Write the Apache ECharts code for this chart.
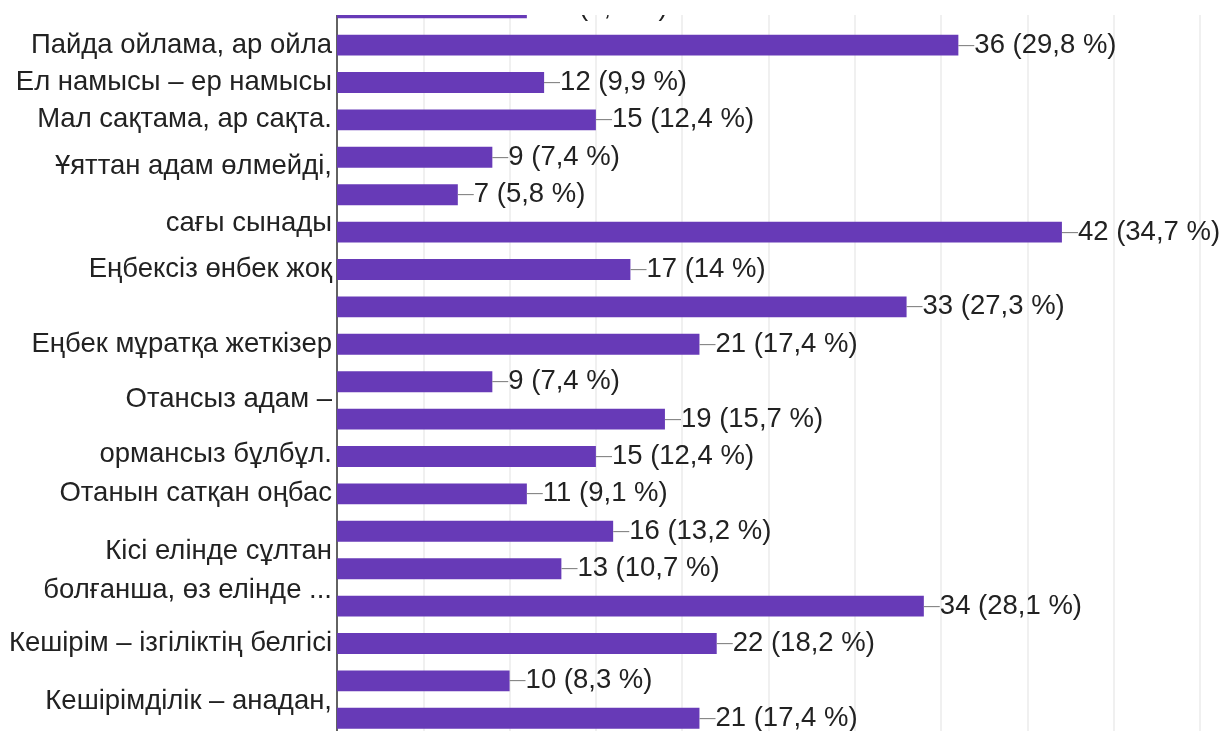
<!DOCTYPE html>
<html>
<head>
<meta charset="utf-8">
<script src="https://cdn.jsdelivr.net/npm/echarts@6/dist/echarts.min.js"></script>
<style>
html,body{margin:0;padding:0;background:#fff;overflow:hidden;width:1227px;height:731px;}
#wrap{position:absolute;left:0;top:15px;width:1227px;height:716px;overflow:hidden;}
#chart{position:absolute;left:0;top:-35px;width:1227px;height:780px;}
</style>
</head>
<body>
<div id="wrap"><div id="chart"></div></div>
<script>
// Category labels (one per bar, top to bottom); '' = no label shown on that bar
const categories = [
  '', 'Пайда ойлама, ар ойла', 'Ел намысы – ер намысы', 'Мал сақтама, ар сақта.', '',
  'Ұяттан адам өлмейді,\nсағы сынады', '', 'Еңбексіз өнбек жоқ', '', 'Еңбек мұратқа жеткізер',
  '', 'Отансыз адам –\nормансыз бұлбұл.', '', 'Отанын сатқан оңбас', '',
  'Кісі елінде сұлтан\nболғанша, өз елінде ...', '', 'Кешірім – ізгіліктің белгісі', '', 'Кешірімділік – анадан,'
];
// Label layout style per category: w/v = wide two-line, n = narrow two-line, u = shifted up
const labelStyles = ['', '', '', '', '', 'w', '', '', '', '', '', 'v', '', '', '', 'n', '', '', '', 'u'];
const counts = [11, 36, 12, 15, 9, 7, 42, 17, 33, 21, 9, 19, 15, 11, 16, 13, 34, 22, 10, 21];
const percents = ['9,1', '29,8', '9,9', '12,4', '7,4', '5,8', '34,7', '14', '27,3', '17,4', '7,4', '15,7', '12,4', '9,1', '13,2', '10,7', '28,1', '18,2', '8,3', '17,4'];
const xTicks = { min: 0, max: 50, interval: 5 };

const chart = echarts.init(document.getElementById('chart'), null, { renderer: 'canvas' });
const FONT = '"Liberation Sans", Arial, sans-serif';
const FS = 27.5;
chart.setOption({
  animation: false,
  backgroundColor: '#ffffff',
  grid: { left: 337, right: 27, top: 9, height: 748, containLabel: false, outerBoundsMode: 'none' },
  xAxis: {
    type: 'value', min: xTicks.min, max: xTicks.max, interval: xTicks.interval,
    axisLabel: { show: false }, axisLine: { show: false }, axisTick: { show: false },
    splitLine: { show: true, lineStyle: { color: '#ebebeb', width: 1.5 } }
  },
  yAxis: {
    type: 'category', inverse: true, data: categories,
    axisLine: { show: true, lineStyle: { color: '#333', width: 1.5 } },
    axisTick: { show: false },
    axisLabel: {
      interval: 0, margin: 5, color: '#222', fontFamily: FONT, fontSize: FS, align: 'right',
      formatter: function (v, i) {
        const s = labelStyles[i];
        if (!v) return '';
        if (!s) return '{p|' + v + '}';
        return v.split('\n').map(l => '{' + s + '|' + l + '}').join('\n');
      },
      rich: {
        p: { fontFamily: FONT, fontSize: FS, color: '#222', lineHeight: 30 },
        w: { fontFamily: FONT, fontSize: FS, color: '#222', lineHeight: 57 },
        v: { fontFamily: FONT, fontSize: FS, color: '#222', lineHeight: 55, padding: [15, 0, 0, 0] },
        n: { fontFamily: FONT, fontSize: FS, color: '#222', lineHeight: 39, padding: [5, 0, 0, 0] },
        u: { fontFamily: FONT, fontSize: FS, color: '#222', lineHeight: 30, padding: [0, 0, 34, 0] }
      }
    }
  },
  series: [{
    type: 'bar', data: counts, barCategoryGap: '44%',
    itemStyle: { color: '#673ab7' },
    label: {
      show: true, position: 'right', distance: 0,
      formatter: function (p) { return '{d|—}{t|' + counts[p.dataIndex] + ' (' + percents[p.dataIndex] + ' %)}'; },
      rich: {
        d: { fontFamily: FONT, fontSize: 16, color: '#858585' },
        t: { fontFamily: FONT, fontSize: FS, color: '#222' }
      }
    }
  }]
});
</script>
</body>
</html>
